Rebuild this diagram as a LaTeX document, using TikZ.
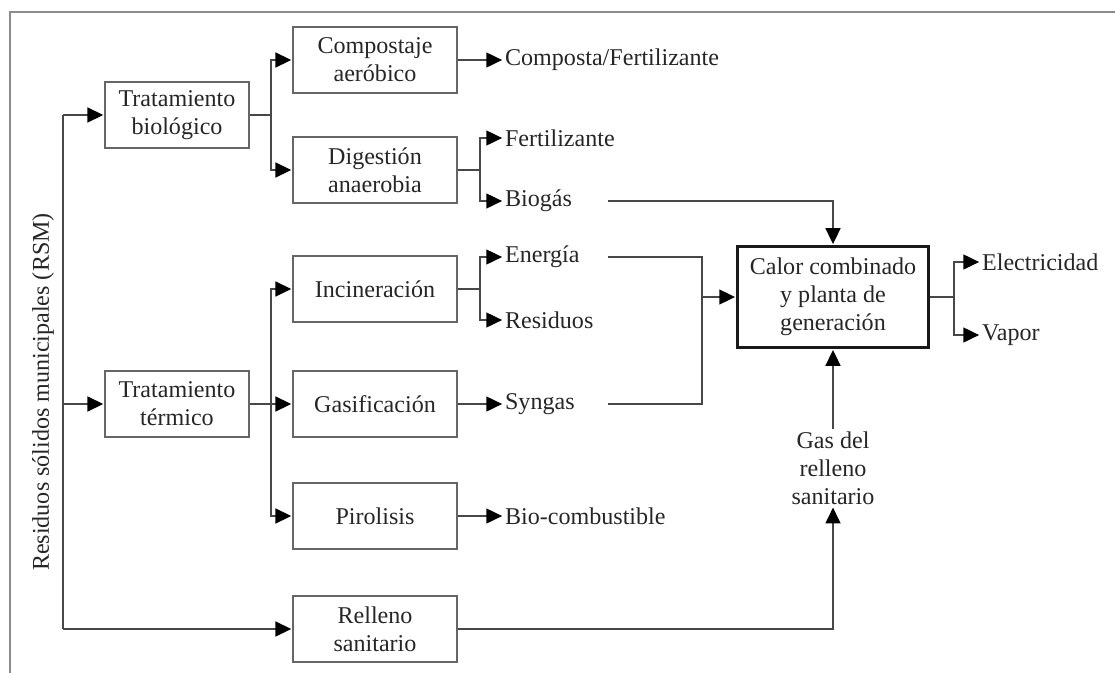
\documentclass[tikz,border=0pt]{standalone}
\usepackage{fontspec}
\setmainfont{Liberation Serif}
\usetikzlibrary{arrows.meta}

\tikzset{
  box/.style={draw=black!60, line width=1pt, align=center, minimum width=3.28cm, minimum height=1.32cm, inner sep=2pt},
  outtext/.style={anchor=west, inner sep=1pt},
  line/.style={draw=black!72, line width=0.9pt},
  arr/.style={line, -{Triangle[length=9pt,width=8.5pt,color=black,fill=black]}, shorten >=0.5pt},
}

\begin{document}
\begin{tikzpicture}[x=0.02cm, y=-0.02cm, font=\fontsize{13.7}{16}\selectfont, text=black!85]

    \useasboundingbox (0,0) rectangle (1115,673);

    % Frame
    \draw[black!45, line width=1.2pt] (1115,12) -- (10,12) -- (10,673);

    % Source
    \node[rotate=90] (rsm) at (43,392) {Residuos sólidos municipales (RSM)};
    \coordinate (trunk) at (63,0);

    % Treatments
    \node[box, minimum width=2.88cm] (bio) at (177,115) {Tratamiento\\biológico};
    \node[box, minimum width=2.88cm] (term) at (177,404) {Tratamiento\\térmico};
    \node[box] (comp) at (375,60) {Compostaje\\aeróbico};
    \node[box] (dig) at (375,170) {Digestión\\anaerobia};
    \node[box] (inc) at (375,289) {Incineración};
    \node[box] (gas) at (375,404) {Gasificación};
    \node[box] (pir) at (375,516) {Pirolisis};
    \node[box] (rel) at (375,629) {Relleno\\sanitario};

    % Products
    \node[outtext] (compost) at (503,60) {Composta/Fertilizante};
    \node[outtext] (fert) at (503,138) {Fertilizante};
    \node[outtext] (biogas) at (503,201) {Biogás};
    \node[outtext] (energia) at (503,257) {Energía};
    \node[outtext] (resid) at (503,320) {Residuos};
    \node[outtext] (syngas) at (503,404) {Syngas};
    \node[outtext] (biocomb) at (503,516) {Bio-combustible};

    % Plant
    \node[box, draw=black!90, line width=1.8pt, minimum width=3.82cm, minimum height=2.02cm] (chp) at (833,297) {Calor combinado\\y planta de\\generación};
    \node[outtext] (elec) at (980,262) {Electricidad};
    \node[outtext] (vapor) at (980,335) {Vapor};
    \node[align=center, inner sep=1pt] (lfg) at (833,468) {Gas del\\relleno\\sanitario};

    % Trunk
    \draw[line] (trunk |- bio.west) -- (trunk |- rel.west);
    \draw[arr] (trunk |- bio.west) -- (bio.west);
    \draw[arr] (trunk |- term.west) -- (term.west);
    \draw[arr] (trunk |- rel.west) -- (rel.west);

    % Branches
    \draw[arr] (bio.east) -- ++(21,0) |- (comp.west);
    \draw[arr] (bio.east) -- ++(21,0) |- (dig.west);
    \draw[arr] (term.east) -- ++(21,0) |- (inc.west);
    \draw[arr] (term.east) -- (gas.west);
    \draw[arr] (term.east) -- ++(21,0) |- (pir.west);
    \draw[arr] (comp.east) -- (compost.west);
    \draw[arr] (dig.east) -- ++(22,0) |- (fert.west);
    \draw[arr] (dig.east) -- ++(22,0) |- (biogas.west);
    \draw[arr] (inc.east) -- ++(22,0) |- (energia.west);
    \draw[arr] (inc.east) -- ++(22,0) |- (resid.west);
    \draw[arr] (gas.east) -- (syngas.west);
    \draw[arr] (pir.east) -- (biocomb.west);

    % Into the plant
    \coordinate (lstart) at (608,0);
    \coordinate (join) at (702,297);
    \draw[arr] (biogas.east -| lstart) -| (chp.north);
    \draw[line] (energia.east -| lstart) -| (join);
    \draw[line] (syngas.east -| lstart) -| (join);
    \draw[arr] (join) -- (chp.west);
    \draw[arr] (rel.east) -| (lfg.south);
    \draw[arr] (lfg.north) -- (chp.south);

    % Out of the plant
    \draw[arr] (chp.east) -- ++(24,0) |- (elec.west);
    \draw[arr] (chp.east) -- ++(24,0) |- (vapor.west);

\end{tikzpicture}
\end{document}
